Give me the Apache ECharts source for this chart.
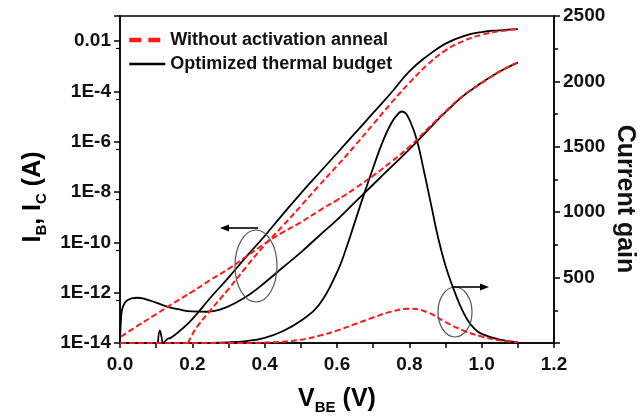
<!DOCTYPE html>
<html>
<head>
<meta charset="utf-8">
<script src="https://cdn.jsdelivr.net/npm/echarts@6/dist/echarts.min.js"></script>
<style>html,body{margin:0;padding:0;background:#fff;}#c{width:644px;height:416px;}</style>
</head>
<body>
<div id="c"></div>
<script>
// ---- Data ----
// Optimized thermal budget (black, solid)
const vIcOpt = [0.105,0.11,0.114,0.12,0.13,0.14,0.15,0.17,0.19,0.21,0.25,0.30,0.35,0.40,0.45,0.50,0.55,0.60,0.65,0.70,0.75,0.80,0.85,0.90,0.95,1.00,1.05,1.10];
const icOpt  = [1.0e-14,3.2e-14,2.0e-14,1.0e-14,1.4e-14,1.6e-14,2.0e-14,3.5e-14,6.3e-14,1.3e-13,6.3e-13,4.0e-12,2.8e-11,1.8e-10,1.3e-9,8.9e-9,5.6e-8,3.5e-7,2.2e-6,1.4e-5,8.9e-5,6.3e-4,2.6e-3,8.0e-3,1.6e-2,2.3e-2,2.7e-2,3.0e-2];
const vIbOpt = [0.0,0.003,0.008,0.02,0.045,0.07,0.10,0.13,0.16,0.20,0.24,0.28,0.32,0.36,0.40,0.45,0.50,0.55,0.60,0.65,0.70,0.75,0.80,0.85,0.90,0.95,1.00,1.05,1.10];
const ibOpt  = [1.0e-14,1.0e-13,2.8e-13,5.0e-13,6.3e-13,5.6e-13,4.0e-13,2.8e-13,2.2e-13,1.8e-13,1.75e-13,2.2e-13,4.0e-13,8.9e-13,2.5e-12,1.0e-11,4.0e-11,1.8e-10,7.9e-10,4.0e-9,2.0e-8,1.0e-7,5.0e-7,2.8e-6,1.5e-5,6.8e-5,2.2e-4,6.2e-4,1.4e-3];
const vGainOpt = [0.0,0.2,0.3,0.35,0.4,0.45,0.5,0.55,0.6,0.625,0.65,0.675,0.7,0.725,0.75,0.77,0.78,0.79,0.8,0.82,0.84,0.86,0.88,0.9,0.92,0.94,0.96,0.98,1.0,1.05,1.1];
const gainOpt  = [0,0,5,15,40,90,170,290,540,720,930,1140,1340,1530,1680,1755,1770,1755,1710,1560,1320,1060,800,590,430,290,180,110,70,25,5];
// Without activation anneal (red, dashed)
const vIcNo = [0.188,0.20,0.213,0.25,0.30,0.35,0.40,0.45,0.50,0.55,0.60,0.65,0.70,0.75,0.80,0.85,0.90,0.95,1.00,1.05,1.10];
const icNo  = [1.0e-14,2.2e-14,4.4e-14,2.0e-13,1.4e-12,1.1e-11,7.9e-11,4.5e-10,2.8e-9,1.8e-8,1.1e-7,7.1e-7,5.0e-6,3.5e-5,2.2e-4,1.15e-3,4.3e-3,1.02e-2,1.8e-2,2.5e-2,3.0e-2];
const vIbNo = [0.003,0.05,0.10,0.15,0.20,0.25,0.30,0.35,0.40,0.45,0.50,0.55,0.60,0.65,0.70,0.75,0.80,0.85,0.90,0.95,1.00,1.05,1.10];
const ibNo  = [1.8e-14,5.0e-14,1.4e-13,4.0e-13,1.1e-12,3.2e-12,8.9e-12,2.8e-11,8.9e-11,2.5e-10,6.3e-10,1.8e-9,4.8e-9,1.4e-8,4.5e-8,1.6e-7,6.3e-7,3.2e-6,1.6e-5,7.1e-5,2.2e-4,6.3e-4,1.45e-3];
const vGainNo = [0.0,0.3,0.4,0.45,0.5,0.55,0.6,0.65,0.7,0.75,0.8,0.85,0.9,0.95,1.0,1.05,1.1];
const gainNo  = [0,0,3,10,25,55,95,145,195,240,262,235,160,95,50,20,5];
// Axis settings / labels
const seriesNames = ['Without activation anneal', 'Optimized thermal budget'];
const xTitle = '{a|V}{b|BE}{a| (V)}';
const yLeftTitle = '{a|I}{b|B}{a|, I}{b|C}{a| (A)}';
const yRightTitle = 'Current gain';

const pairs = (xs, ys) => xs.map((x, i) => [x, ys[i]]);
const FONT = 'Arial, "Liberation Sans", sans-serif';
const RED = '#ff1a1a', BLACK = '#000';
const TICK_FS = 19, TITLE_FS = 25;

const chart = echarts.init(document.getElementById('c'), null, {renderer: 'canvas'});
const lineSeries = (name, data, color, dashed, yIdx) => ({
  name, type: 'line', yAxisIndex: yIdx, data, symbol: 'none', showSymbol: false,
  smooth: 0.45, clip: true,
  lineStyle: {color, width: dashed ? 2 : 1.8, type: dashed ? [6, 3] : 'solid'},
  itemStyle: {color}, z: dashed ? 3 : 2, animation: false
});

const titleRich = (size) => ({
  a: {fontSize: size, fontWeight: 'bold', fontFamily: FONT, color: '#111', lineHeight: size + 8},
  b: {fontSize: Math.round(size * 0.6), fontWeight: 'bold', fontFamily: FONT, color: '#111', lineHeight: Math.round(size * 0.6), verticalAlign: 'bottom'}
});
const tickLabel = (extra) => Object.assign({fontSize: TICK_FS, fontWeight: 'bold', fontFamily: FONT, color: '#111'}, extra);

chart.setOption({
  animation: false,
  backgroundColor: '#fff',
  grid: {left: 120, right: 90, top: 16, bottom: 73, show: true, borderColor: '#000', borderWidth: 1.5, backgroundColor: 'transparent'},
  legend: {
    left: 127, top: 31, orient: 'vertical', padding: 0, itemGap: 6,
    itemWidth: 36, itemHeight: 15,
    textStyle: {fontSize: 18, fontWeight: 'bold', fontFamily: FONT, color: '#111'},
    data: [
      {name: seriesNames[0], itemStyle: {opacity: 0}, lineStyle: {width: 4.5, type: [12, 7], color: RED}},
      {name: seriesNames[1], itemStyle: {opacity: 0}, lineStyle: {width: 2.5, color: BLACK}}
    ]
  },
  xAxis: {
    type: 'value', min: 0, max: 1.2, interval: 0.2,
    axisLine: {lineStyle: {color: '#000', width: 1.5}},
    axisTick: {show: true, inside: false, length: 5, lineStyle: {color: '#000', width: 1.5}},
    minorTick: {show: true, splitNumber: 2, length: 5, lineStyle: {color: '#000', width: 1.5}},
    splitLine: {show: false},
    axisLabel: tickLabel({margin: 12, formatter: v => v.toFixed(1)})
  },
  yAxis: [
    {
      type: 'log', logBase: 100, min: 1e-14, max: 0.1,
      axisLine: {show: true, lineStyle: {color: '#000', width: 1.5}},
      axisTick: {show: true, length: 6, lineStyle: {color: '#000', width: 1.5}},
      minorTick: {show: true, splitNumber: 2, length: 4, lineStyle: {color: '#000', width: 1.2}},
      splitLine: {show: false},
      axisLabel: tickLabel({margin: 9,
        formatter: v => { const e = Math.round(Math.log10(v)); if (e % 2 !== 0) return ''; return e === -2 ? '0.01' : '1E' + e; }})
    },
    {
      type: 'value', min: 0, max: 2500, interval: 500, position: 'right',
      axisLine: {show: true, lineStyle: {color: '#000', width: 1.5}},
      axisTick: {show: true, length: 6, lineStyle: {color: '#000', width: 1.5}},
      minorTick: {show: true, splitNumber: 2, length: 4, lineStyle: {color: '#000', width: 1.5}},
      splitLine: {show: false},
      axisLabel: tickLabel({margin: 9, formatter: v => v === 0 ? '' : String(v)})
    }
  ],
  series: [
    lineSeries(seriesNames[0], pairs(vIcNo, icNo), RED, true, 0),
    lineSeries(seriesNames[0], pairs(vIbNo, ibNo), RED, true, 0),
    lineSeries(seriesNames[0], pairs(vGainNo, gainNo), RED, true, 1),
    lineSeries(seriesNames[1], pairs(vIcOpt, icOpt), BLACK, false, 0),
    lineSeries(seriesNames[1], pairs(vIbOpt, ibOpt), BLACK, false, 0),
    lineSeries(seriesNames[1], pairs(vGainOpt, gainOpt), BLACK, false, 1)
  ],
  graphic: [
    {type: 'text', x: 337, y: 399, style: {text: xTitle, rich: titleRich(TITLE_FS), align: 'center', verticalAlign: 'middle'}},
    {type: 'text', x: 33, y: 197, rotation: Math.PI / 2, style: {text: yLeftTitle, rich: titleRich(TITLE_FS), align: 'center', verticalAlign: 'middle'}},
    {type: 'text', x: 625, y: 199, rotation: -Math.PI / 2, style: {text: yRightTitle, font: 'bold ' + TITLE_FS + 'px ' + FONT, fill: '#111', align: 'center', verticalAlign: 'middle'}},
    // annotation ellipses and arrows
    {type: 'ellipse', shape: {cx: 256, cy: 266, rx: 21, ry: 36}, style: {fill: 'none', stroke: '#555', lineWidth: 1.2}, z: 10},
    {type: 'line', shape: {x1: 258, y1: 228, x2: 226, y2: 228}, style: {stroke: '#000', lineWidth: 1.6}, z: 10},
    {type: 'polygon', shape: {points: [[220, 228], [229, 224.5], [229, 231.5]]}, style: {fill: '#000'}, z: 10},
    {type: 'ellipse', shape: {cx: 455, cy: 312, rx: 17, ry: 25}, style: {fill: 'none', stroke: '#555', lineWidth: 1.2}, z: 10},
    {type: 'line', shape: {x1: 452, y1: 287, x2: 483, y2: 287}, style: {stroke: '#000', lineWidth: 1.6}, z: 10},
    {type: 'polygon', shape: {points: [[489, 287], [480, 283.5], [480, 290.5]]}, style: {fill: '#000'}, z: 10}
  ]
});
</script>
</body>
</html>
